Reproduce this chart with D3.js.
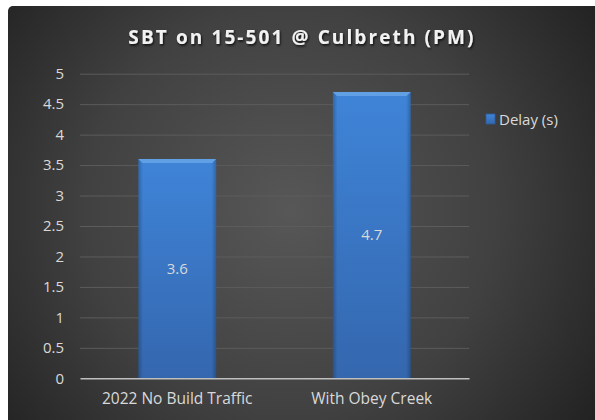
<!DOCTYPE html>
<html>
<head>
<meta charset="utf-8">
<script src="https://cdn.jsdelivr.net/npm/d3@7"></script>
<style>
  html, body { margin: 0; padding: 0; background: #fff; }
  svg { display: block; }
  text { font-family: "Open Sans", "Noto Sans", sans-serif; }
</style>
</head>
<body>
<div id="chart"></div>
<script>
// chart data
var categories = ["2022 No Build Traffic", "With Obey Creek"];
var delays = [3.6, 4.7];
var yTicks = [0, 0.5, 1, 1.5, 2, 2.5, 3, 3.5, 4, 4.5, 5];
var seriesName = "Delay (s)";
var title = "SBT on 15-501 @ Culbreth (PM)";

var W = 595, H = 420;
var plot = { left: 80, right: 469, top: 73.7, bottom: 378.3 };

const svg = d3.select("#chart")
    .append("svg")
    .attr("width", W)
    .attr("height", H);

const defs = svg.append("defs");

// background radial glow
const bg = defs.append("radialGradient")
    .attr("id", "bg")
    .attr("gradientUnits", "userSpaceOnUse")
    .attr("cx", 290).attr("cy", 210).attr("r", 370);
bg.append("stop").attr("offset", "0%").attr("stop-color", "#575757");
bg.append("stop").attr("offset", "55%").attr("stop-color", "#414141");
bg.append("stop").attr("offset", "100%").attr("stop-color", "#222222");

const barGrad = defs.append("linearGradient")
    .attr("id", "barGrad")
    .attr("x1", 0).attr("y1", 0).attr("x2", 0).attr("y2", 1);
barGrad.append("stop").attr("offset", "0%").attr("stop-color", "#3f84d8");
barGrad.append("stop").attr("offset", "100%").attr("stop-color", "#3467ae");

const sideGrad = defs.append("linearGradient")
    .attr("id", "sideGrad")
    .attr("x1", 0).attr("y1", 0).attr("x2", 1).attr("y2", 0);
sideGrad.append("stop").attr("offset", "0%").attr("stop-color", "#000").attr("stop-opacity", 0.22);
sideGrad.append("stop").attr("offset", "6%").attr("stop-color", "#000").attr("stop-opacity", 0);
sideGrad.append("stop").attr("offset", "94%").attr("stop-color", "#000").attr("stop-opacity", 0);
sideGrad.append("stop").attr("offset", "100%").attr("stop-color", "#000").attr("stop-opacity", 0.22);

const shadow = defs.append("filter").attr("id", "tshadow")
    .attr("x", "-10%").attr("y", "-30%").attr("width", "120%").attr("height", "160%");
shadow.append("feDropShadow")
    .attr("dx", 1).attr("dy", 1.5).attr("stdDeviation", 1.2)
    .attr("flood-color", "#000").attr("flood-opacity", 0.8);

svg.append("rect")
    .attr("x", 8).attr("y", 6)
    .attr("width", W - 8 + 6).attr("height", H - 6 + 6)
    .attr("rx", 5)
    .attr("fill", "url(#bg)");

const xScale = d3.scaleBand()
    .domain(categories)
    .range([plot.left, plot.right])
    .paddingInner(0.6)
    .paddingOuter(0.3);

const yScale = d3.scaleLinear()
    .domain([0, 5])
    .range([plot.bottom, plot.top]);

// gridlines
const grid = svg.append("g")
    .attr("transform", `translate(${plot.left},0)`)
    .call(d3.axisLeft(yScale)
        .tickValues(yTicks.slice(1))
        .tickSize(-(plot.right - plot.left))
        .tickFormat(""));
grid.select(".domain").remove();
grid.selectAll("line").attr("stroke", "#5c5c5c").attr("stroke-width", 1);

// y tick labels
const yAxis = svg.append("g")
    .attr("transform", `translate(${plot.left},0)`)
    .call(d3.axisLeft(yScale)
        .tickValues(yTicks)
        .tickSize(0)
        .tickPadding(16)
        .tickFormat(d3.format("")));
yAxis.select(".domain").remove();
yAxis.selectAll("text")
    .attr("fill", "#d9d9d9")
    .style("font-size", "15px")
    .style("font-family", "'Open Sans', sans-serif");

// bars
const bars = svg.selectAll(".bar")
    .data(delays)
    .enter()
    .append("g")
    .attr("class", "bar");

bars.append("rect")
    .attr("x", (d, i) => xScale(categories[i]))
    .attr("y", d => yScale(d))
    .attr("width", xScale.bandwidth())
    .attr("height", d => yScale(0) - yScale(d))
    .attr("fill", "url(#barGrad)");

bars.append("rect")
    .attr("x", (d, i) => xScale(categories[i]))
    .attr("y", d => yScale(d))
    .attr("width", xScale.bandwidth())
    .attr("height", d => yScale(0) - yScale(d))
    .attr("fill", "url(#sideGrad)");

// bevel on top edge
bars.append("path")
    .attr("d", (d, i) => {
        var x0 = xScale(categories[i]), x1 = x0 + xScale.bandwidth(), y0 = yScale(d);
        return `M${x0},${y0}L${x1},${y0}L${x1 - 4},${y0 + 4}L${x0 + 4},${y0 + 4}Z`;
    })
    .attr("fill", "#62a0e6");

bars.append("text")
    .attr("x", (d, i) => xScale(categories[i]) + xScale.bandwidth() / 2)
    .attr("y", d => (yScale(d) + yScale(0)) / 2)
    .attr("dy", "0.35em")
    .attr("text-anchor", "middle")
    .attr("fill", "#d9d9d9")
    .style("font-size", "15px")
    .text(d => d);

// x axis
const xAxis = svg.append("g")
    .attr("transform", `translate(0,${plot.bottom})`)
    .call(d3.axisBottom(xScale).tickSize(0).tickPadding(15));
xAxis.select(".domain").attr("stroke", "#bfbfbf").attr("stroke-width", 1.5);
xAxis.selectAll("text")
    .attr("fill", "#d9d9d9")
    .style("font-size", "15.5px")
    .style("font-family", "'Open Sans', sans-serif");

// legend
const legend = svg.append("g").attr("transform", "translate(486,114)");
legend.append("rect")
    .attr("width", 9).attr("height", 10)
    .attr("fill", "url(#barGrad)")
    .attr("stroke", "#2d5d9c").attr("stroke-width", 0.8);
legend.append("text")
    .attr("x", 13).attr("y", 11)
    .attr("fill", "#d9d9d9")
    .style("font-size", "15px")
    .text(seriesName);

// title
svg.append("text")
    .attr("x", 302)
    .attr("y", 44)
    .attr("text-anchor", "middle")
    .attr("fill", "#f2f2f2")
    .attr("filter", "url(#tshadow)")
    .style("font-size", "19px")
    .style("font-weight", "bold")
    .style("letter-spacing", "2.1px")
    .text(title);
</script>
</body>
</html>
